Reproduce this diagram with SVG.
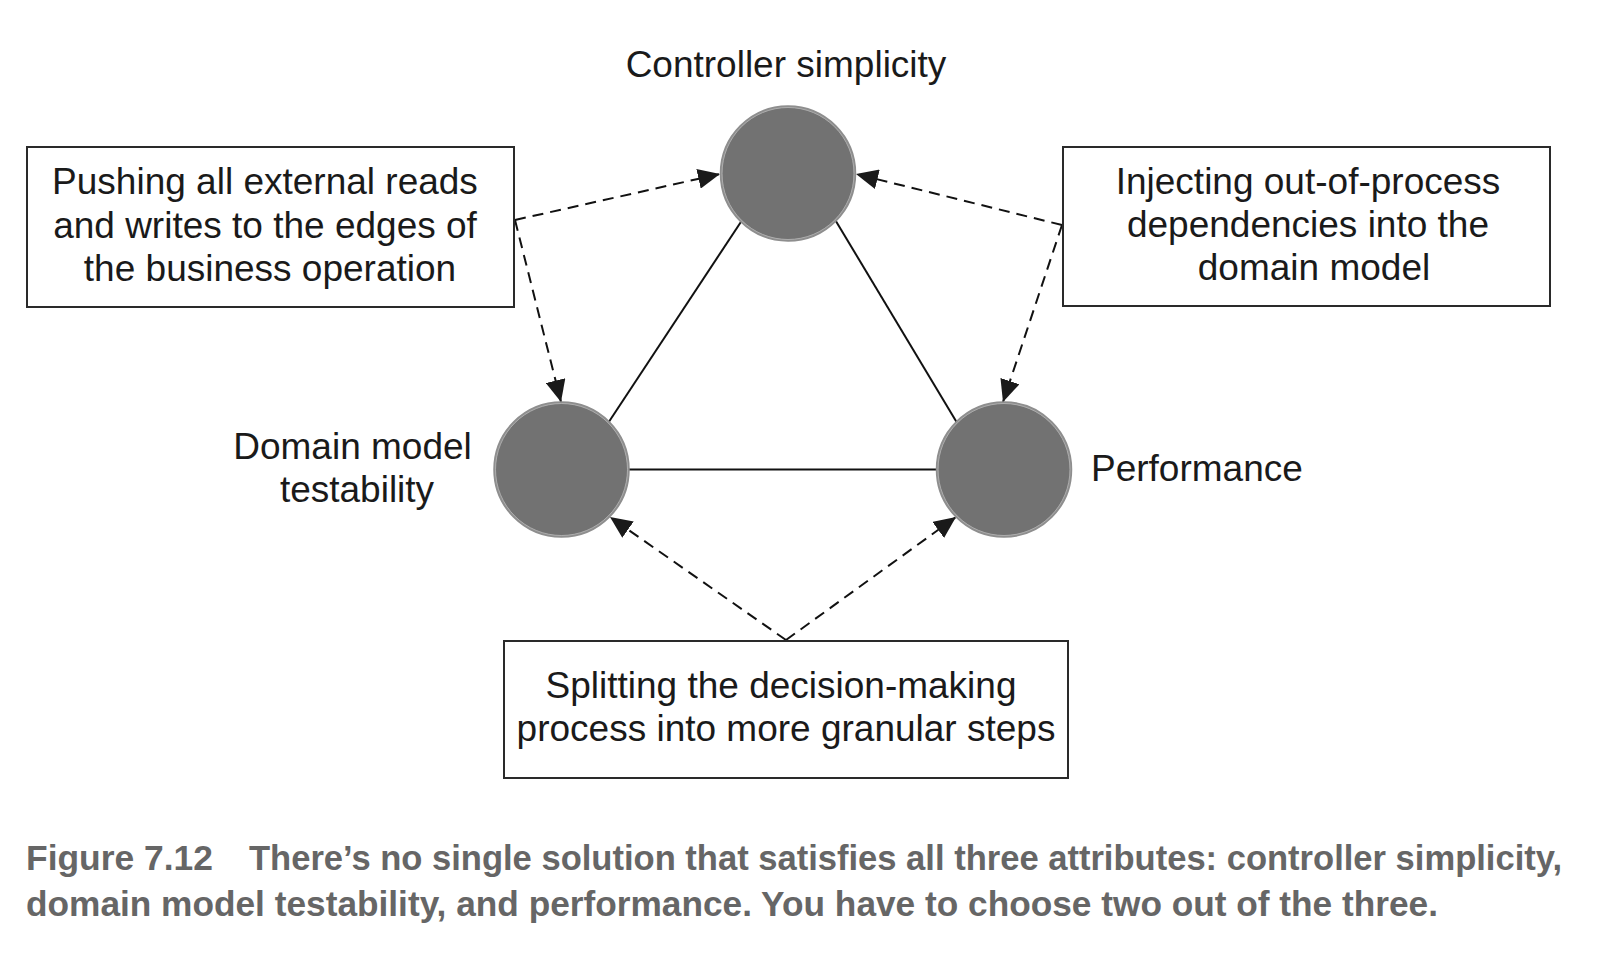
<svg xmlns="http://www.w3.org/2000/svg" width="1616" height="970" viewBox="0 0 1616 970">
  <style>
    .lbl { font-family: "Liberation Sans", Arial, sans-serif; font-size: 37px; fill: #1a1a1a; }
    .mid { text-anchor: middle; }
    .box { fill: #ffffff; stroke: #2a2a2a; stroke-width: 2; }
    .node { fill: #727272; stroke: #8e8e8e; stroke-width: 2.5; }
    .nodehl { fill: none; stroke: #b8b8b8; stroke-width: 0.8; }
    .edge { stroke: #111111; stroke-width: 2; fill: none; }
    .dash { stroke: #111111; stroke-width: 2; fill: none; stroke-dasharray: 11 7; marker-end: url(#arrow); }
    .cap { font-family: "Liberation Sans", Arial, sans-serif; font-weight: bold; font-size: 35px; fill: #666666; }
  </style>
  <defs>
    <marker id="arrow" markerUnits="userSpaceOnUse" viewBox="0 0 22 20" refX="22" refY="10" markerWidth="22" markerHeight="20" orient="auto">
      <path d="M0,0 L22,10 L0,20 z" fill="#1a1a1a"/>
    </marker>
  </defs>
  <rect width="1616" height="970" fill="#ffffff"/>

  <g id="connectors">
    <line class="edge" x1="741.7" y1="220.7" x2="608.3" y2="422.7"/>
    <line class="edge" x1="835.7" y1="220.7" x2="957.3" y2="423.3"/>
    <line class="edge" x1="629" y1="469.5" x2="937" y2="469.5"/>
    <path class="dash" d="M515,220 L720,174"/>
    <path class="dash" d="M515,220 L561,402"/>
    <path class="dash" d="M1062,225 L856,174"/>
    <path class="dash" d="M1062,225 L1003,402"/>
    <path class="dash" d="M786,640 L610,517"/>
    <path class="dash" d="M786,640 L956,517"/>
  </g>

  <g id="node-controller">
    <circle class="node" cx="788" cy="173.5" r="67"/>
    <circle class="nodehl" cx="788" cy="173.5" r="66"/>
    <text class="lbl mid" x="786" y="77">Controller simplicity</text>
  </g>

  <g id="node-domain">
    <circle class="node" cx="561.5" cy="469.5" r="67"/>
    <circle class="nodehl" cx="561.5" cy="469.5" r="66"/>
    <text class="lbl mid" x="352.5" y="459">Domain model</text>
    <text class="lbl mid" x="357" y="502">testability</text>
  </g>

  <g id="node-performance">
    <circle class="node" cx="1004" cy="469.5" r="67"/>
    <circle class="nodehl" cx="1004" cy="469.5" r="66"/>
    <text class="lbl" x="1091" y="481">Performance</text>
  </g>

  <g id="box-pushing">
    <rect class="box" x="27" y="147" width="487" height="160"/>
    <text class="lbl mid" x="265" y="194">Pushing all external reads</text>
    <text class="lbl mid" x="265" y="238">and writes to the edges of</text>
    <text class="lbl mid" x="270" y="281">the business operation</text>
  </g>

  <g id="box-injecting">
    <rect class="box" x="1063" y="147" width="487" height="159"/>
    <text class="lbl mid" x="1308" y="194">Injecting out-of-process</text>
    <text class="lbl mid" x="1308" y="237">dependencies into the</text>
    <text class="lbl mid" x="1314" y="280">domain model</text>
  </g>

  <g id="box-splitting">
    <rect class="box" x="504" y="641" width="564" height="137"/>
    <text class="lbl mid" x="781" y="698">Splitting the decision-making</text>
    <text class="lbl mid" x="786" y="741">process into more granular steps</text>
  </g>

  <g id="caption">
    <text class="cap" x="26" y="870" textLength="187" lengthAdjust="spacingAndGlyphs">Figure 7.12</text>
    <text class="cap" x="249" y="870" textLength="1313" lengthAdjust="spacingAndGlyphs">There’s no single solution that satisfies all three attributes: controller simplicity,</text>
    <text class="cap" x="26" y="916" textLength="1412" lengthAdjust="spacingAndGlyphs">domain model testability, and performance. You have to choose two out of the three.</text>
  </g>
</svg>
